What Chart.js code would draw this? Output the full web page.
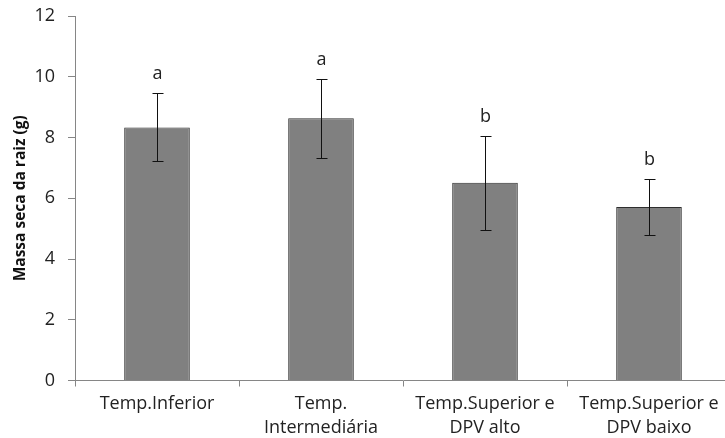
<!DOCTYPE html>
<html>
<head>
<meta charset="utf-8">
<script src="https://cdn.jsdelivr.net/npm/chart.js@4.4.1/dist/chart.umd.min.js"></script>
<style>
  html, body { margin: 0; padding: 0; background: #fff; overflow: hidden; }
  #wrap { width: 740px; height: 438px; }
</style>
</head>
<body>
<div id="wrap"><canvas id="rootChart"></canvas></div>
<script>
const treatments = [
  ["Temp.Inferior"],
  ["Temp.", "Intermediária"],
  ["Temp.Superior e", "DPV alto"],
  ["Temp.Superior e", "DPV baixo"]
];
const dryMass = [8.33, 8.63, 6.51, 5.71];
const stdDev = [1.12, 1.29, 1.55, 0.92];
const groupLetters = ["a", "a", "b", "b"];
const yTicks = [0, 2, 4, 6, 8, 10, 12];

const axisGray = "#868686";
const labelFont = { family: "Open Sans", size: 18 };

// error bars and significance letters on top of each bar
const errorBars = {
  id: "errorBars",
  afterDatasetsDraw(chart) {
    const ctx = chart.ctx;
    const y = chart.scales.y;
    const bars = chart.getDatasetMeta(0).data;
    ctx.save();
    ctx.strokeStyle = "#111";
    ctx.lineWidth = 1;
    bars.forEach((bar, i) => {
      const x = Math.round(bar.x) + 0.5;
      const hi = Math.round(y.getPixelForValue(dryMass[i] + stdDev[i])) + 0.5;
      const lo = Math.round(y.getPixelForValue(dryMass[i] - stdDev[i])) + 0.5;
      ctx.beginPath();
      ctx.moveTo(x, hi); ctx.lineTo(x, lo);
      ctx.moveTo(x - 5, hi); ctx.lineTo(x + 6, hi);
      ctx.moveTo(x - 5, lo); ctx.lineTo(x + 6, lo);
      ctx.stroke();

      ctx.fillStyle = "#222";
      ctx.font = `${labelFont.size}px "${labelFont.family}"`;
      ctx.textAlign = "center";
      ctx.textBaseline = "middle";
      ctx.fillText(groupLetters[i], x, hi - 20);
    });
    ctx.restore();
  }
};

new Chart(document.getElementById("rootChart"), {
  type: "bar",
  data: {
    labels: treatments,
    datasets: [{
      data: dryMass,
      backgroundColor: "#808080",
      borderColor: "#2e2e2e",
      borderWidth: 1,
      categoryPercentage: 1,
      barPercentage: 0.4
    }]
  },
  options: {
    responsive: true,
    maintainAspectRatio: false,
    animation: false,
    layout: { padding: { top: 16, right: 9, left: 0, bottom: 0 } },
    plugins: {
      legend: { display: false },
      tooltip: { enabled: false }
    },
    scales: {
      x: {
        grid: { drawOnChartArea: false, color: axisGray, tickLength: 6, offset: true },
        border: { color: axisGray },
        ticks: { color: "#222", font: { ...labelFont, lineHeight: 1.3 }, padding: 6, maxRotation: 0, autoSkip: false },
        afterFit(scale) { scale.height = 57.5; scale.paddingLeft = 0; scale.paddingRight = 0; }
      },
      y: {
        min: 0,
        max: 12,
        afterBuildTicks(scale) { scale.ticks = yTicks.map(v => ({ value: v })); },
        grid: { drawOnChartArea: false, color: axisGray, tickLength: 7 },
        border: { color: axisGray },
        ticks: { color: "#222", font: labelFont, padding: 13 },
        title: {
          display: true,
          text: "Massa seca da raiz (g)",
          color: "#111",
          font: { family: "Open Sans", size: 15.5, weight: "bold" },
          padding: { top: 11, bottom: 0 }
        },
        afterFit(scale) { scale.width = 75; scale.paddingTop = 0; scale.paddingBottom = 0; }
      }
    }
  },
  plugins: [errorBars]
});
</script>
</body>
</html>
